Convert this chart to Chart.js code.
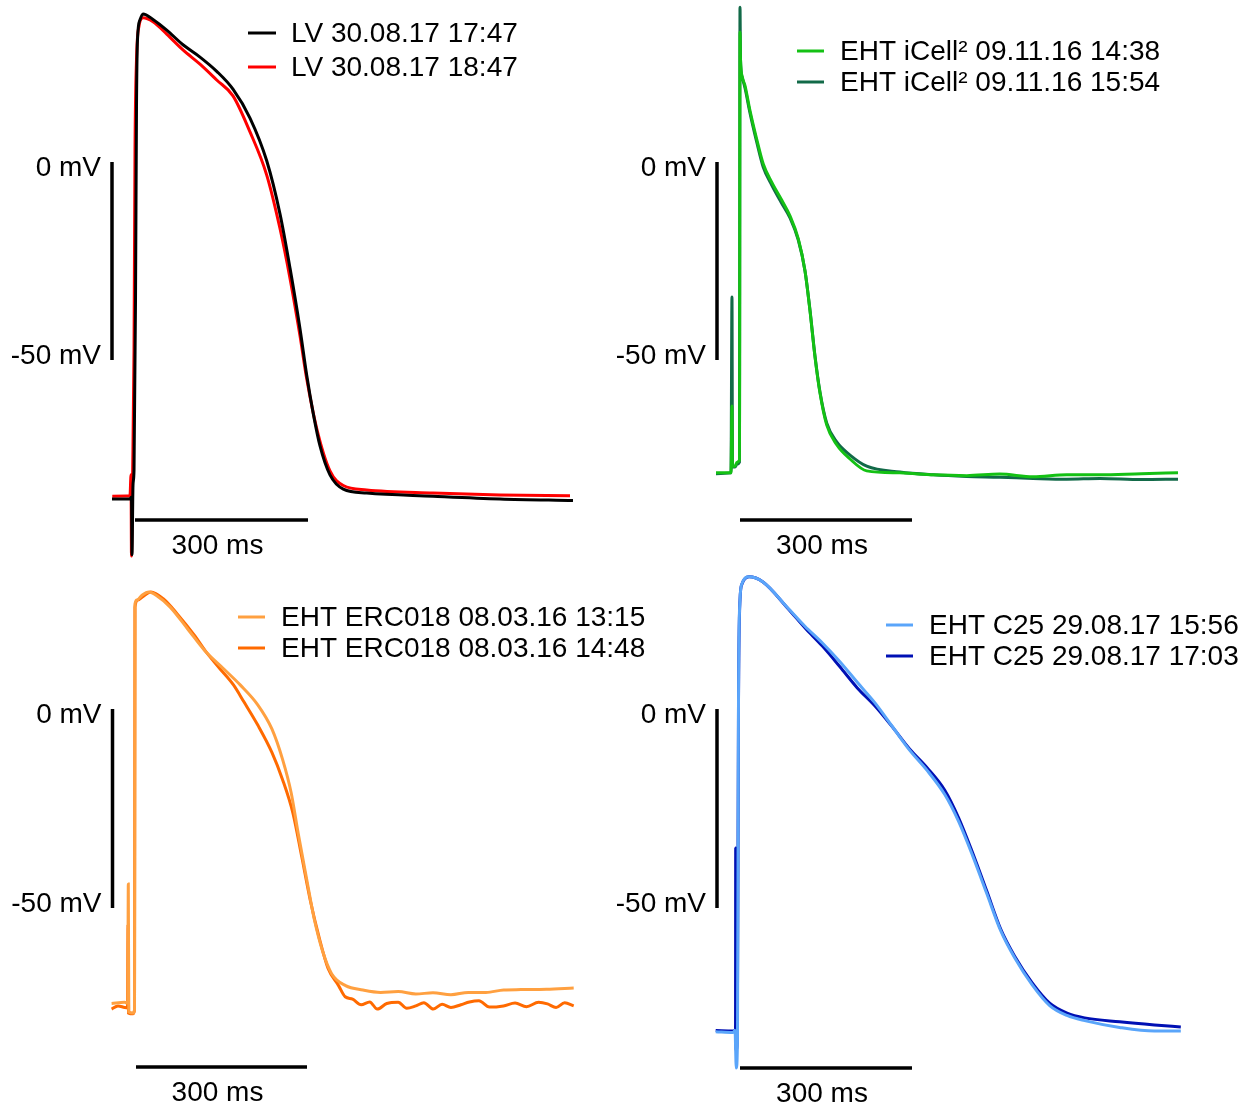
<!DOCTYPE html>
<html>
<head>
<meta charset="utf-8">
<script src="https://cdn.jsdelivr.net/npm/chart.js@4.4.1/dist/chart.umd.min.js"></script>
<style>
  body { margin: 0; background: #fff; }
  #wrap { position: relative; width: 1251px; height: 1106px; overflow: hidden; }
  canvas { position: absolute; }
</style>
</head>
<body>
<div id="wrap">
  <canvas id="lv"></canvas>
  <canvas id="icell"></canvas>
  <canvas id="erc"></canvas>
  <canvas id="c25"></canvas>
</div>
<script>
// Zeiten in ms (0 = Beginn des Skalenbalkens), Spannung in mV
const lvA_t = [-39.9, -8.7, -6.1, -5.2, -3.5, -1.7, 0.9, 2.6, 4.3, 8.7, 13.9, 31.2, 55.0, 83.2, 112.7, 141.7, 169.9, 199.4, 228.4, 251.4, 268.8, 286.1, 297.7, 309.2, 320.8, 338.1, 361.2, 401.8, 516.7, 632.9, 759.5];
const lvA_v = [-85.1, -85.1, -84.6, -99.2, -81.8, -77.8, -34.8, 13.9, 30.8, 35.9, 37.4, 36.0, 33.3, 29.6, 26.5, 22.9, 18.4, 11.1, 0.3, -13.1, -26.8, -42.1, -53.8, -63.6, -71.7, -79.0, -82.6, -83.6, -84.4, -85.1, -85.5];
const lvB_t = [-39.4, -8.7, -6.9, -6.1, -4.3, -1.7, 0.0, 2.6, 6.9, 13.9, 31.2, 55.0, 83.2, 112.7, 141.7, 169.9, 199.4, 228.4, 251.4, 268.8, 286.1, 297.7, 315.1, 338.1, 361.2, 401.8, 516.7, 632.9, 754.3];
const lvB_v = [-84.4, -84.3, -79.0, -99.5, -80.3, -47.5, 3.0, 25.8, 34.3, 36.4, 35.4, 32.3, 28.3, 24.7, 20.7, 16.7, 7.6, -3.3, -16.8, -29.4, -43.9, -54.7, -67.3, -78.0, -81.7, -82.8, -83.6, -84.1, -84.3];

const icA_t = [-41.9, -15.7, -14.0, -13.1, -8.7, -5.2, -0.9, 0.0, 0.9, 4.0, 8.7, 17.4, 29.1, 40.6, 55.3, 72.7, 87.2, 101.7, 113.4, 122.1, 130.8, 139.5, 151.2, 168.7, 191.9, 221.0, 279.1, 337.0, 395.4, 453.0, 511.1, 570.0, 627.9, 700.0, 764.0];
const icA_v = [-78.5, -78.5, -61.6, -76.8, -76.8, -75.8, -75.3, 32.8, 25.8, 21.5, 19.3, 13.0, 5.8, -0.5, -5.1, -9.6, -13.6, -19.4, -27.5, -37.6, -49.2, -58.3, -66.4, -71.4, -75.0, -78.0, -78.5, -79.0, -79.2, -78.8, -79.5, -79.0, -79.0, -78.7, -78.5];
const icB_t = [-41.9, -15.7, -14.0, -13.1, -8.7, -5.2, -0.9, 0.0, 0.9, 4.0, 8.7, 17.4, 29.1, 40.6, 55.3, 72.7, 87.2, 101.7, 113.4, 122.1, 130.8, 139.5, 151.2, 168.7, 191.9, 221.0, 279.1, 337.0, 395.4, 453.0, 511.1, 570.0, 627.9, 700.0, 764.0];
const icB_v = [-78.7, -78.5, -34.1, -77.0, -77.0, -76.3, -75.8, 39.1, 25.8, 21.2, 18.7, 12.4, 5.1, -1.3, -5.8, -10.4, -14.1, -19.7, -27.5, -37.4, -49.0, -58.1, -65.9, -70.7, -74.0, -76.8, -78.3, -79.0, -79.4, -79.6, -79.9, -80.1, -79.9, -80.2, -80.1];

const ercA_t = [-42.8, -20.0, -14.4, -13.5, -12.6, -5.3, -2.6, -1.8, 1.8, 10.5, 22.8, 35.3, 60.0, 90.7, 121.6, 152.3, 183.2, 213.9, 238.4, 257.0, 272.3, 284.6, 300.0, 312.3, 327.7, 343.2, 367.7, 398.0, 429.3, 460.0, 490.9, 521.0, 552.5, 583.0, 614.0, 645.0, 675.4, 720.0, 767.9];
const ercA_v = [-74.0, -73.7, -73.9, -44.0, -76.1, -76.4, -75.6, 26.4, 27.4, 28.6, 29.4, 28.6, 25.6, 20.1, 14.5, 10.3, 6.0, 1.0, -5.0, -12.6, -21.1, -31.3, -43.2, -52.5, -61.0, -66.5, -69.5, -70.6, -71.2, -71.0, -71.6, -71.3, -71.8, -71.2, -71.2, -70.6, -70.5, -70.4, -70.1];
const ercB_t = [-42.8, -31.6, -20.0, -14.9, -14.0, -13.0, -5.3, -2.6, -1.8, 3.5, 10.5, 26.3, 47.7, 72.3, 103.0, 121.6, 146.1, 170.7, 189.3, 213.9, 238.4, 257.0, 275.4, 290.9, 306.1, 321.6, 337.0, 355.4, 367.0, 380.0, 395.0, 410.0, 423.2, 440.0, 460.0, 475.0, 490.9, 505.0, 521.6, 537.0, 552.5, 570.0, 585.0, 601.6, 620.0, 644.7, 665.0, 685.0, 706.3, 722.0, 737.0, 752.0, 767.9];
const ercB_v = [-75.4, -74.6, -75.0, -75.1, -54.3, -76.4, -76.6, -75.6, 25.6, 27.4, 28.1, 29.4, 27.7, 23.9, 18.4, 14.6, 10.3, 6.1, 1.8, -4.1, -10.9, -17.7, -26.2, -37.2, -48.3, -57.6, -65.2, -69.5, -72.3, -72.9, -74.3, -73.6, -75.4, -74.0, -73.7, -75.2, -74.6, -73.8, -75.4, -74.2, -75.0, -74.3, -73.6, -73.3, -74.9, -74.6, -73.9, -74.8, -73.7, -74.1, -75.0, -73.8, -74.6];

const c25A_t = [-42.4, -12.2, -8.7, -6.5, -4.4, -2.6, 0.0, 3.5, 15.7, 40.1, 82.7, 113.2, 143.7, 174.3, 204.6, 235.1, 265.7, 296.2, 326.7, 357.2, 381.5, 405.9, 430.3, 454.7, 479.1, 509.7, 540.2, 570.5, 601.1, 662.1, 723.0, 768.9];
const c25A_v = [-81.1, -81.3, -80.7, -90.2, -83.2, 2.3, 27.4, 31.5, 33.2, 31.9, 25.5, 20.8, 16.6, 11.9, 6.7, 1.6, -4.4, -10.4, -15.5, -21.5, -28.3, -36.9, -46.3, -55.7, -62.5, -69.3, -74.5, -77.0, -78.3, -80.0, -80.9, -80.9];
const c25B_t = [-42.4, -12.2, -7.8, -7.5, -7.0, -4.7, -2.6, 0.0, 3.5, 15.7, 40.1, 82.7, 113.2, 143.7, 174.3, 204.6, 235.1, 265.7, 296.2, 326.7, 357.2, 381.5, 405.9, 430.3, 454.7, 479.1, 509.7, 540.2, 570.5, 601.1, 662.1, 723.0, 768.9];
const c25B_v = [-80.8, -80.9, -80.7, -34.9, -85.7, -83.2, 2.3, 27.4, 31.4, 33.2, 31.9, 25.4, 20.4, 15.8, 10.6, 5.3, 0.8, -4.5, -10.1, -14.8, -20.4, -27.4, -36.2, -45.7, -55.3, -62.1, -68.8, -73.9, -76.4, -77.6, -78.6, -79.4, -79.9];

const seriesLabels = [
  ['LV 30.08.17 17:47', 'LV 30.08.17 18:47'],
  ['EHT iCell² 09.11.16 14:38', 'EHT iCell² 09.11.16 15:54'],
  ['EHT ERC018 08.03.16 13:15', 'EHT ERC018 08.03.16 14:48'],
  ['EHT C25 29.08.17 15:56', 'EHT C25 29.08.17 17:03']
];
const barLabels = { mv0: '0 mV', mv50: '-50 mV', ms: '300 ms' };
const barSize = { mv: 50, ms: 300 };

// Layout der vier Felder (Seitenpixel)
const panels = [
  { id: 'lv', left: 0, top: 0, w: 610, h: 560, x0: 135, y0: 162, pxMs: 0.5767, pxMv: 3.96, vbarX: 112, hbarY: 520,
    legX: [248, 276], legY: [33, 67], legText: 291, colors: ['#000000', '#ff0000'],
    data: [[lvA_t, lvA_v], [lvB_t, lvB_v]] },
  { id: 'icell', left: 600, top: 0, w: 651, h: 560, x0: 740, y0: 162, pxMs: 0.5733, pxMv: 3.96, vbarX: 717, hbarY: 520,
    legX: [797, 824], legY: [51, 82], legText: 840, colors: ['#14c114', '#126a48'],
    data: [[icA_t, icA_v], [icB_t, icB_v]] },
  { id: 'erc', left: 0, top: 560, w: 660, h: 546, x0: 136, y0: 709, pxMs: 0.57, pxMv: 3.98, vbarX: 112.5, hbarY: 1067,
    legX: [238, 265], legY: [617, 648], legText: 281, colors: ['#ffa040', '#ff6a00'],
    data: [[ercA_t, ercA_v], [ercB_t, ercB_v]] },
  { id: 'c25', left: 600, top: 560, w: 651, h: 546, x0: 740, y0: 709, pxMs: 0.5733, pxMv: 3.98, vbarX: 717, hbarY: 1068,
    legX: [886, 913], legY: [625, 656], legText: 929, colors: ['#5aa5fa', '#0010b4'],
    data: [[c25A_t, c25A_v], [c25B_t, c25B_v]] }
];

const FONT = '28px "Liberation Sans", Arial, sans-serif';

const toPoints = (ts, vs) => ts.map((t, i) => ({ x: t, y: vs[i] }));

// Skalenbalken + Legende
const scaleBars = {
  id: 'scaleBars',
  afterDatasetsDraw(chart, args, opts) {
    const p = opts.panel;
    if (!p) return;
    const { ctx } = chart;
    const { x, y } = chart.scales;
    ctx.save();
    ctx.strokeStyle = '#000';
    ctx.lineWidth = 3.5;
    const vx = p.vbarX - p.left;
    const yTop = y.getPixelForValue(0);
    const yBot = y.getPixelForValue(-barSize.mv);
    ctx.beginPath(); ctx.moveTo(vx, yTop); ctx.lineTo(vx, yBot); ctx.stroke();
    const hy = p.hbarY - p.top;
    const xa = x.getPixelForValue(0);
    const xb = x.getPixelForValue(barSize.ms);
    ctx.beginPath(); ctx.moveTo(xa, hy); ctx.lineTo(xb, hy); ctx.stroke();

    ctx.font = FONT;
    ctx.fillStyle = '#000';
    ctx.textBaseline = 'middle';
    ctx.textAlign = 'right';
    ctx.fillText(barLabels.mv0, vx - 11, yTop + 6);
    ctx.fillText(barLabels.mv50, vx - 11, yBot - 4);
    ctx.textAlign = 'center';
    ctx.fillText(barLabels.ms, (xa + xb) / 2 - 4, hy + 26);

    ctx.textAlign = 'left';
    ctx.lineWidth = 3;
    chart.data.datasets.forEach((ds, i) => {
      const ly = p.legY[i] - p.top;
      ctx.strokeStyle = ds.borderColor;
      ctx.beginPath();
      ctx.moveTo(p.legX[0] - p.left, ly);
      ctx.lineTo(p.legX[1] - p.left, ly);
      ctx.stroke();
      ctx.fillStyle = '#000';
      ctx.fillText(ds.label, p.legText - p.left, ly + 1);
    });
    ctx.restore();
  }
};

panels.forEach((p, k) => {
  const cv = document.getElementById(p.id);
  cv.width = p.w; cv.height = p.h;
  cv.style.left = p.left + 'px';
  cv.style.top = p.top + 'px';

  new Chart(cv.getContext('2d'), {
    type: 'line',
    data: {
      datasets: p.data.map(([ts, vs], i) => ({
        label: seriesLabels[k][i],
        data: toPoints(ts, vs),
        borderColor: p.colors[i],
        borderWidth: 3,
        pointRadius: 0,
        cubicInterpolationMode: 'monotone',
        fill: false
      }))
    },
    options: {
      responsive: false,
      animation: false,
      devicePixelRatio: 1,
      layout: { padding: 0 },
      plugins: {
        legend: { display: false },
        tooltip: { enabled: false },
        scaleBars: { panel: p }
      },
      scales: {
        x: { type: 'linear', display: false,
             min: (p.left - p.x0) / p.pxMs, max: (p.left + p.w - p.x0) / p.pxMs },
        y: { type: 'linear', display: false,
             min: (p.y0 - (p.top + p.h)) / p.pxMv, max: (p.y0 - p.top) / p.pxMv }
      }
    },
    plugins: [scaleBars]
  });
});
</script>
</body>
</html>
